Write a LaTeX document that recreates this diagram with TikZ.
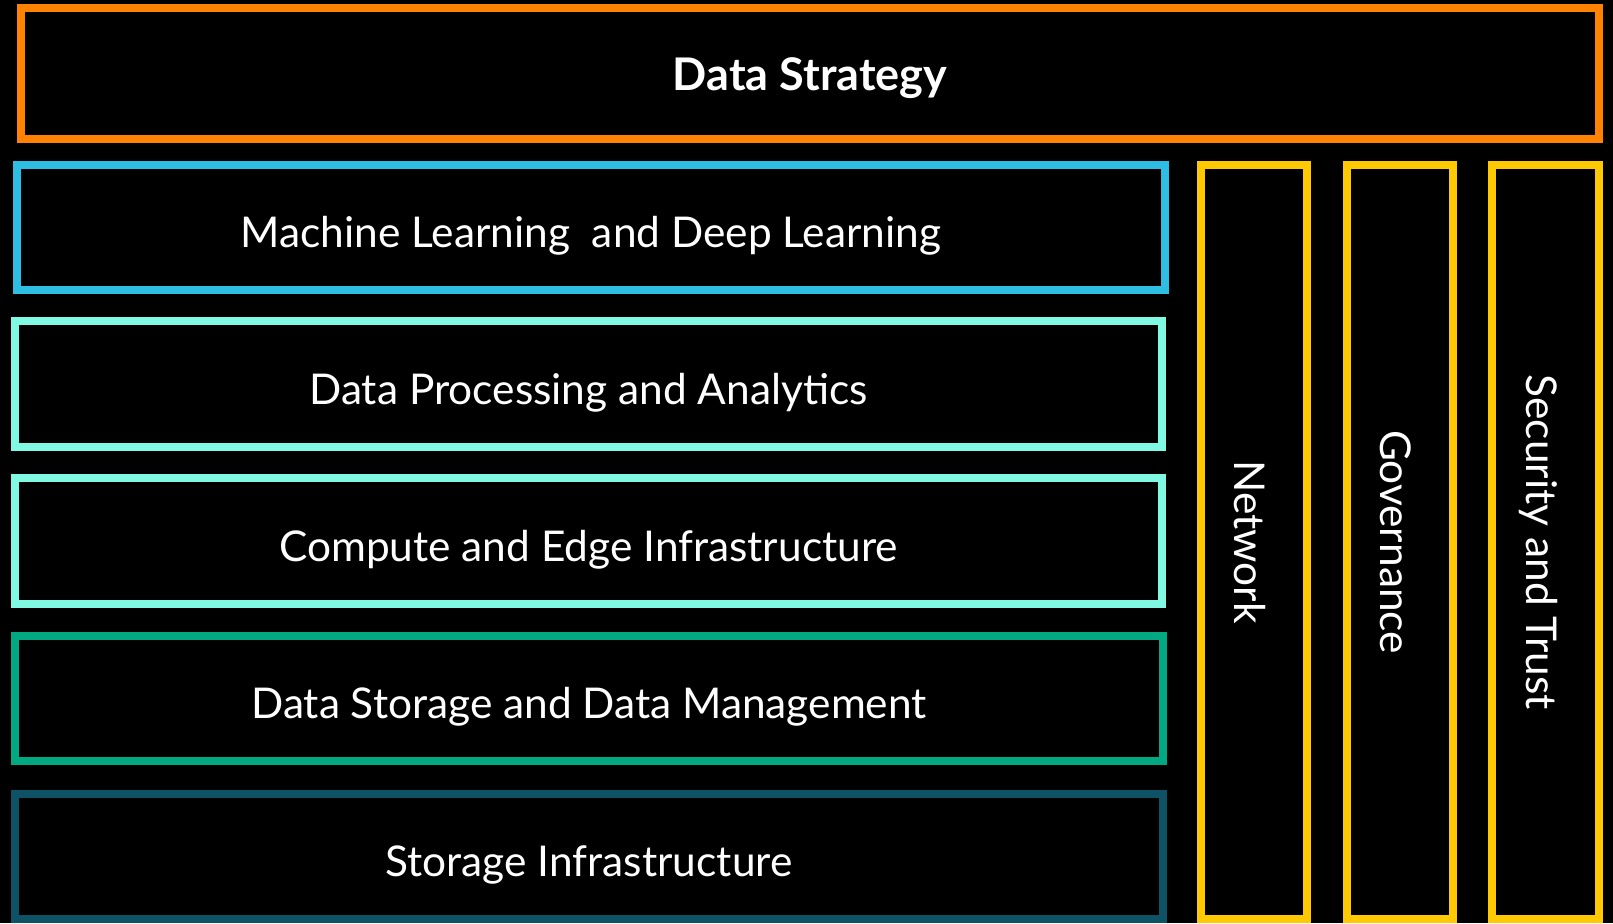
\documentclass[tikz,border=0pt]{standalone}
\usepackage{fontspec}
\setmainfont{Lato}
\definecolor{hpeorange}{HTML}{FF8300}
\definecolor{hpeblue}{HTML}{2EBDE3}
\definecolor{hpeaqua}{HTML}{7FF9E2}
\definecolor{hpegreen}{HTML}{01A982}
\definecolor{hpeteal}{HTML}{0E5265}
\definecolor{hpeyellow}{HTML}{FEC901}
\begin{document}
\begin{tikzpicture}[x=0.5pt,y=-0.5pt,
  lbl/.style={text=white,font=\fontsize{21.2pt}{25pt}\selectfont,inner sep=0pt,anchor=base},
  vlbl/.style={text=white,font=\fontsize{21.2pt}{25pt}\selectfont,inner sep=0pt,anchor=base,rotate=-90}]
\fill[black] (0,0) rectangle (1613,923);
\useasboundingbox (0,0) rectangle (1613,923);
% boxes
\draw[hpeorange,line width=4pt] (21,8) rectangle (1599,139);
\coordinate (strat) at (810,73.5);
\draw[hpeblue,line width=4pt] (17,165) rectangle (1165,290);
\coordinate (ml) at (591,227.5);
\draw[hpeaqua,line width=4pt] (15,321) rectangle (1162,447);
\coordinate (dp) at (588.5,384);
\draw[hpeaqua,line width=4pt] (15,478) rectangle (1162,604);
\coordinate (ce) at (588.5,541);
\draw[hpegreen,line width=4pt] (15,636) rectangle (1163,761);
\coordinate (ds) at (589,698.5);
\draw[hpeteal,line width=4pt] (15,794) rectangle (1163,919);
\coordinate (si) at (589,856.5);
\draw[hpeyellow,line width=4pt] (1201,165) rectangle (1307,919);
\coordinate (nw) at (1254,542);
\draw[hpeyellow,line width=4pt] (1347,165) rectangle (1453,919);
\coordinate (gv) at (1400,542);
\draw[hpeyellow,line width=4pt] (1492,165) rectangle (1599,919);
\coordinate (st) at (1545.5,542);
% labels
\node[lbl,font=\fontsize{22.5pt}{26pt}\selectfont\bfseries] (tstrat) at ([yshift=-8.5pt]strat) {Data Strategy};
\node[lbl] (tml) at ([yshift=-10pt]ml) {Machine Learning\ \ and Deep Learning};
\node[lbl] (tdp) at ([yshift=-10pt]dp) {Data Processing and Analytics};
\node[lbl] (tce) at ([yshift=-10pt]ce) {Compute and Edge Infrastructure};
\node[lbl] (tds) at ([yshift=-10pt]ds) {Data Storage and Data Management};
\node[lbl] (tsi) at ([yshift=-10pt]si) {Storage Infrastructure};
\node[vlbl] (tnw) at ([xshift=-10pt]nw) {Network};
\node[vlbl] (tgv) at ([xshift=-10pt]gv) {Governance};
\node[vlbl] (tst) at ([xshift=-9.75pt]st) {Security and Trust};
\end{tikzpicture}
\end{document}
